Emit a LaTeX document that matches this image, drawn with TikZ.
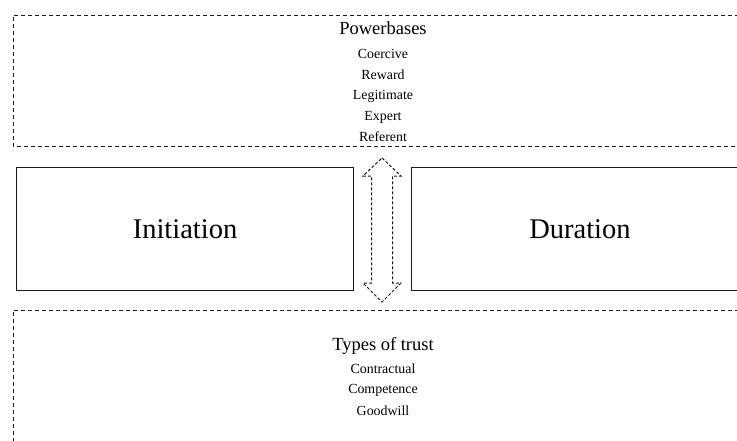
\documentclass[tikz,border=0pt]{standalone}
\usepackage{fontspec}
\setmainfont{Liberation Serif}
\begin{document}
\begin{tikzpicture}[x=1pt,y=-1pt,
  dbox/.style={draw=black!90, line width=1pt, dash pattern=on 4pt off 3pt},
  sbox/.style={draw=black!90, line width=1.4pt},
  head/.style={font=\fontsize{18.5}{20}\selectfont, inner sep=0pt},
  item/.style={font=\fontsize{13.9}{15}\selectfont, inner sep=0pt},
  big/.style={font=\fontsize{28.5}{30}\selectfont, inner sep=0pt},
  arrowline/.style={draw=black!90, line width=1pt, dash pattern=on 3pt off 2pt}]
\useasboundingbox (0,0) rectangle (737,440);
\clip (0,0) rectangle (737,440);
\fill[white] (0,0) rectangle (737,440);
% dashed boxes
\draw[dbox] (760,15) -- (13,15) -- (13,146) -- (760,146);
\draw[dbox] (760,310) -- (13,310) -- (13,450);
% solid boxes
\node[sbox, minimum width=337pt, minimum height=123pt, anchor=north west] (init) at (16,167) {};
\node[sbox, minimum width=360pt, minimum height=123pt, anchor=north west] (dur) at (411,167) {};
\node[big] (initT) at (185,229) {Initiation};
\node[big] (durT) at (580,229) {Duration};
% top texts
\node[head] (pb) at (383,28) {Powerbases};
\node[item] (c1) at (383,54) {Coercive};
\node[item] (c2) at (383,75) {Reward};
\node[item] (c3) at (383,96) {Legitimate};
\node[item] (c4) at (383,117) {Expert};
\node[item] (c5) at (383,137) {Referent};
% bottom texts
\node[head] (tt) at (383,346) {Types of trust};
\node[item] (t1) at (383,369) {Contractual};
\node[item] (t2) at (383,390) {Competence};
\node[item] (t3) at (383,411) {Goodwill};
% double arrow
\coordinate (ac) at (382,229);
\draw[arrowline] (382,158) -- (401,176) -- (392.5,176) -- (392.5,283) -- (401,283)
  -- (382,302) -- (363,283) -- (371.5,283) -- (371.5,176) -- (363,176) -- cycle;
\end{tikzpicture}
\end{document}
